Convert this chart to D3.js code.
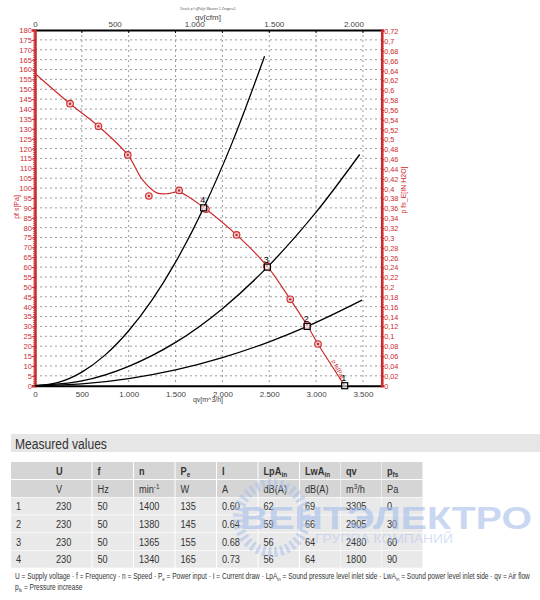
<!DOCTYPE html>
<html><head><meta charset="utf-8">
<script src="https://cdn.jsdelivr.net/npm/d3@7"></script>
<style>body{margin:0;background:#fff}svg{display:block}</style>
</head><body><svg id="c" width="540" height="600"></svg>
<script>
// ---------- data ----------
const qvTicks = [0,500,1000,1500,2000,2500,3000,3500];
const cfmTicks = [0,500,1000,1500,2000];
const paTicks = [0,5,10,15,20,25,30,35,40,45,50,55,60,65,70,75,80,85,90,95,100,105,110,115,120,125,130,135,140,145,150,155,160,165,170,175,180];
const inTicks = [0,0.02,0.04,0.06,0.08,0.1,0.12,0.14,0.16,0.18,0.2,0.22,0.24,0.26,0.28,0.3,0.32,0.34,0.36,0.38,0.4,0.42,0.44,0.46,0.48,0.5,0.52,0.54,0.56,0.58,0.6,0.62,0.64,0.66,0.68,0.7,0.72];

// fan curve (line) m3/h, Pa
const fanLineQv = [0,374,677,990,1150,1300,1420,1538,1824,2151,2475,2724,2903,3020,3305];
const fanLinePa = [158,142.7,131.3,116.8,104,97.6,97.2,98.0,89.3,76.3,60.6,43.7,30.7,21.1,0];
// measured markers on fan curve
const fanMarkQv = [374,677,990,1215,1538,1824,2151,2475,2724,2903,3020];
const fanMarkPa = [142.7,131.3,116.8,96,98.8,89.3,76.3,60.6,43.7,30.7,21.1];
// operating points
const opQv = [3305,2905,2480,1800];
const opPa = [0,30,60,90];
const opLabel = ["1","2","3","4"];
// system curves
const sys4Qv = [0,250,500,750,1000,1250,1500,1800,2100,2450];
const sys4Pa = [0,1.7,6.9,15.6,27.8,43.4,62.5,90,122.5,166.7];
const sys3Qv = [0,500,1000,1500,2000,2480,3000,3465];
const sys3Pa = [0,2.4,9.8,21.9,39,60,87.8,117];
const sys2Qv = [0,500,1000,1500,2000,2500,2905,3490];
const sys2Pa = [0,0.9,3.6,8,14.2,22.2,30,43.3];

// table
const headMain = ["","U","f","n","P","I","LpA","LwA","qv","p"];
const headSub  = ["","","","","e","","in","in","","fs"];
const unitMain = ["","V","Hz","min","W","A","dB(A)","dB(A)","m","Pa"];
const unitSup  = ["","","","-1","","","","","3",""];
const unitTail = ["","","","","","","","","/h",""];
const rowNo  = ["1","2","3","4"];
const colU   = ["230","230","230","230"];
const colF   = ["50","50","50","50"];
const colN   = ["1400","1380","1365","1340"];
const colPe  = ["135","145","155","165"];
const colI   = ["0.60","0.64","0.68","0.73"];
const colLpA = ["62","59","56","56"];
const colLwA = ["69","66","64","64"];
const colQv  = ["3305","2905","2480","1800"];
const colPfs = ["0","30","60","90"];

// ---------- drawing ----------
const RED = "#cc2b2e";
const svg = d3.select("#c");
const L = 35, R = 381.7, T = 30, B = 385.7;
const x = d3.scaleLinear().domain([0,3700]).range([L,R]);
const xc = d3.scaleLinear().domain([0,3700*0.588578]).range([L,R]);
const y = d3.scaleLinear().domain([0,180]).range([B,T]);
const yr = d3.scaleLinear().domain([0,180/249.089]).range([B,T]);
const loc = d3.formatLocale({decimal:",",thousands:".",grouping:[3],currency:["",""]});
const fThou = loc.format(",d");
const fComma = v => d3.format(".2~f")(v).replace(".",",");
const FONT = "'Liberation Sans', Arial, sans-serif";
const SQ = 0.8; // horizontal squeeze for the narrow table font

// grid
const g = svg.append("g");
g.selectAll("line.h").data(paTicks.slice(1,-1)).join("line")
  .attr("x1",L).attr("x2",R).attr("y1",d=>y(d)).attr("y2",d=>y(d))
  .attr("stroke","#9a9a9a").attr("stroke-width",1).attr("stroke-dasharray","2,3");
g.selectAll("line.v").data(qvTicks.slice(1)).join("line")
  .attr("x1",d=>x(d)).attr("x2",d=>x(d)).attr("y1",T).attr("y2",B)
  .attr("stroke","#9a9a9a").attr("stroke-width",1).attr("stroke-dasharray","2,3");

// axes
const bottomAx = svg.append("g").attr("transform",`translate(0,${B})`)
  .call(d3.axisBottom(x).tickValues(qvTicks).tickFormat(fThou).tickSize(0).tickPadding(6));
bottomAx.select(".domain").attr("stroke","#000").attr("stroke-width",2);
bottomAx.selectAll("text").attr("font-family",FONT).attr("font-size",8).attr("fill","#444");

const topAx = svg.append("g").attr("transform",`translate(0,${T})`)
  .call(d3.axisTop(xc).tickValues(cfmTicks).tickFormat(fThou).tickSize(0).tickPadding(3));
topAx.select(".domain").attr("stroke","#000").attr("stroke-width",2);
topAx.selectAll("text").attr("font-family",FONT).attr("font-size",8).attr("fill","#444");
svg.append("g").selectAll("line").data(qvTicks.slice(1)).join("line")
  .attr("x1",d=>x(d)).attr("x2",d=>x(d)).attr("y1",T).attr("y2",T+3).attr("stroke","#000");

// left axis (Pa)
const leftAx = svg.append("g").attr("transform",`translate(${L},0)`)
  .call(d3.axisLeft(y).tickValues(paTicks).tickFormat(d=>d).tickSize(3).tickPadding(0));
leftAx.select(".domain").attr("stroke",RED).attr("stroke-width",2.5);
leftAx.selectAll(".tick line").attr("stroke",RED);
leftAx.selectAll("text").attr("font-family",FONT).attr("font-size",7.6).attr("fill",RED);
svg.append("g").selectAll("line").data(d3.range(0,181,1)).join("line")
  .attr("x1",L-2).attr("x2",L).attr("y1",d=>y(d)).attr("y2",d=>y(d)).attr("stroke",RED).attr("stroke-width",0.8);

// right axis (in H2O)
const rightAx = svg.append("g").attr("transform",`translate(${R},0)`)
  .call(d3.axisRight(yr).tickValues(inTicks).tickFormat(fComma).tickSize(2.5).tickPadding(0));
rightAx.select(".domain").attr("stroke",RED).attr("stroke-width",2.5);
rightAx.selectAll(".tick line").attr("stroke",RED);
rightAx.selectAll("text").attr("font-family",FONT).attr("font-size",7.3).attr("fill",RED);
svg.append("g").selectAll("line").data(d3.range(0,145,1).map(i=>i*0.005)).join("line")
  .attr("x1",R).attr("x2",R+2).attr("y1",d=>yr(d)).attr("y2",d=>yr(d)).attr("stroke",RED).attr("stroke-width",0.8);

// axis titles
svg.append("text").attr("x",208).attr("y",10).attr("text-anchor","middle")
  .attr("font-family",FONT).attr("font-size",3.5).attr("fill","#555")
  .text("Druck p f s[Pa]e Wasser 1 Zeiger=1");
svg.append("text").attr("x",208).attr("y",19.5).attr("text-anchor","middle")
  .attr("font-family",FONT).attr("font-size",8).attr("fill","#444").text("qv[cfm]");
svg.append("text").attr("x",208).attr("y",402).attr("text-anchor","middle")
  .attr("font-family",FONT).attr("font-size",7).attr("fill","#444").text("qv[m^3/h]");
svg.append("text").attr("transform","translate(19,207) rotate(-90)").attr("text-anchor","middle")
  .attr("font-family",FONT).attr("font-size",7).attr("fill",RED).text("pf s[Pa]");
svg.append("text").attr("transform","translate(406,190) rotate(-90)").attr("text-anchor","middle")
  .attr("font-family",FONT).attr("font-size",7).attr("fill",RED).text("p fs_E[IN H2O]");

// system curves
const line = d3.line().curve(d3.curveMonotoneX);
[[sys4Qv,sys4Pa],[sys3Qv,sys3Pa],[sys2Qv,sys2Pa]].forEach(([q,p])=>{
  svg.append("path").attr("d",line(q.map((v,i)=>[x(v),y(p[i])])))
    .attr("fill","none").attr("stroke","#000").attr("stroke-width",1.3);
});

// fan curve
const fanLine = d3.line().curve(d3.curveCatmullRom.alpha(0.5));
svg.append("path").attr("d",fanLine(fanLineQv.map((v,i)=>[x(v),y(fanLinePa[i])])))
  .attr("fill","none").attr("stroke",RED).attr("stroke-width",1.2);
const mk = svg.append("g");
fanMarkQv.forEach((v,i)=>{
  mk.append("circle").attr("cx",x(v)).attr("cy",y(fanMarkPa[i])).attr("r",3.3)
    .attr("fill","#f3c9c9").attr("stroke",RED).attr("stroke-width",1.1);
  mk.append("circle").attr("cx",x(v)).attr("cy",y(fanMarkPa[i])).attr("r",1.2).attr("fill",RED);
});
svg.append("text").attr("transform",`translate(${x(3215)},${y(8)}) rotate(62)`)
  .attr("font-family",FONT).attr("font-size",6).attr("fill",RED).attr("text-anchor","middle")
  .text("p fs[Pa]");

// operating points
opQv.forEach((v,i)=>{
  svg.append("rect").attr("x",x(v)-3).attr("y",y(opPa[i])-3).attr("width",6).attr("height",6)
    .attr("fill","#fff").attr("fill-opacity",0.6).attr("stroke","#000").attr("stroke-width",1.2);
  svg.append("text").attr("x",x(v)-1).attr("y",y(opPa[i])-4.5).attr("text-anchor","middle")
    .attr("font-family",FONT).attr("font-size",9).attr("fill","#000").text(opLabel[i]);
});

// ---------- table ----------
svg.append("rect").attr("x",11).attr("y",434).attr("width",529).attr("height",18).attr("fill","#e6e6e6");
svg.append("text").attr("transform",`translate(15,448.5) scale(0.78,1)`).attr("font-family",FONT).attr("font-size",15.5)
  .attr("fill","#333").text("Measured values");

const colX = [11,51,92.5,134,175.5,217,258.5,300,341,382];
const colW = 40.5;
const rowY = [462,480,497.6,515.3,533,550.7];
const rowH = 17;
const dataCols = [rowNo,colU,colF,colN,colPe,colI,colLpA,colLwA,colQv,colPfs];
const tb = svg.append("g").attr("font-family",FONT).attr("font-size",11.5).attr("fill","#333");
rowY.forEach((ry,r)=>{
  colX.forEach((cx,c)=>{
    tb.append("rect").attr("x",cx).attr("y",ry).attr("width",colW).attr("height",rowH)
      .attr("fill", r<2 ? "#d5d5d5" : "#e9e9e9");
  });
});
const place = (cx,yy) => `translate(${cx+5},${yy}) scale(${SQ},1)`;
colX.forEach((cx,c)=>{
  const t = tb.append("text").attr("transform",place(cx,rowY[0]+12.5)).attr("font-weight","bold");
  t.append("tspan").text(headMain[c]);
  if (headSub[c]) t.append("tspan").attr("dy",2.5).attr("font-size",8).text(headSub[c]);
  const u = tb.append("text").attr("transform",place(cx,rowY[1]+12.5));
  u.append("tspan").text(unitMain[c]);
  if (unitSup[c]) u.append("tspan").attr("dy",-4).attr("font-size",8).text(unitSup[c]);
  if (unitTail[c]) u.append("tspan").attr("dy",4).text(unitTail[c]);
  dataCols[c].forEach((v,r)=>{
    tb.append("text").attr("transform",place(cx,rowY[r+2]+12.5)).text(v);
  });
});

// footnote
const fn = svg.append("g").attr("font-family",FONT).attr("font-size",9).attr("fill","#333");
const f1 = fn.append("text");
[["U = Supply voltage · f = Frequency · n = Speed · P",""],["e","sub"],[" = Power input · I = Current draw · LpA",""],["in","sub"],
 [" = Sound pressure level inlet side · LwA",""],["in","sub"],[" = Sound power level inlet side · qv = Air flow",""]]
 .forEach(([s,k],i)=>{
  const ts = f1.append("tspan").text(s);
  if (k==="sub") ts.attr("font-size",6).attr("dy",2);
  else ts.attr("dy", i>0 ? -2 : 0);
 });
const fw = f1.node().getComputedTextLength();
const fs = 516 / fw;
f1.attr("transform",`translate(15,579) scale(${fs},1)`);
const f2 = fn.append("text").attr("transform",`translate(15,590) scale(${fs},1)`);
f2.append("tspan").text("p");
f2.append("tspan").attr("font-size",6).attr("dy",2).text("fs");
f2.append("tspan").attr("dy",-2).text(" = Pressure increase");

// watermark
const wm = svg.append("g").attr("opacity",0.55).attr("pointer-events","none");
wm.append("circle").attr("cx",272).attr("cy",518).attr("r",34).attr("fill","none")
  .attr("stroke","#a9c0ea").attr("stroke-width",10).attr("stroke-dasharray","3,3");
wm.append("text").attr("x",240).attr("y",529).attr("font-family",FONT).attr("font-weight","bold")
  .attr("font-size",31).attr("fill","#9db8ea").attr("textLength",292).attr("lengthAdjust","spacingAndGlyphs")
  .text("ВЕНТЭЛЕКТРО");
wm.append("text").attr("x",315).attr("y",543).attr("font-family",FONT)
  .attr("font-size",13).attr("fill","#b5c8ee").attr("textLength",138).attr("lengthAdjust","spacingAndGlyphs")
  .text("ГРУППА КОМПАНИЙ");
</script></body></html>
